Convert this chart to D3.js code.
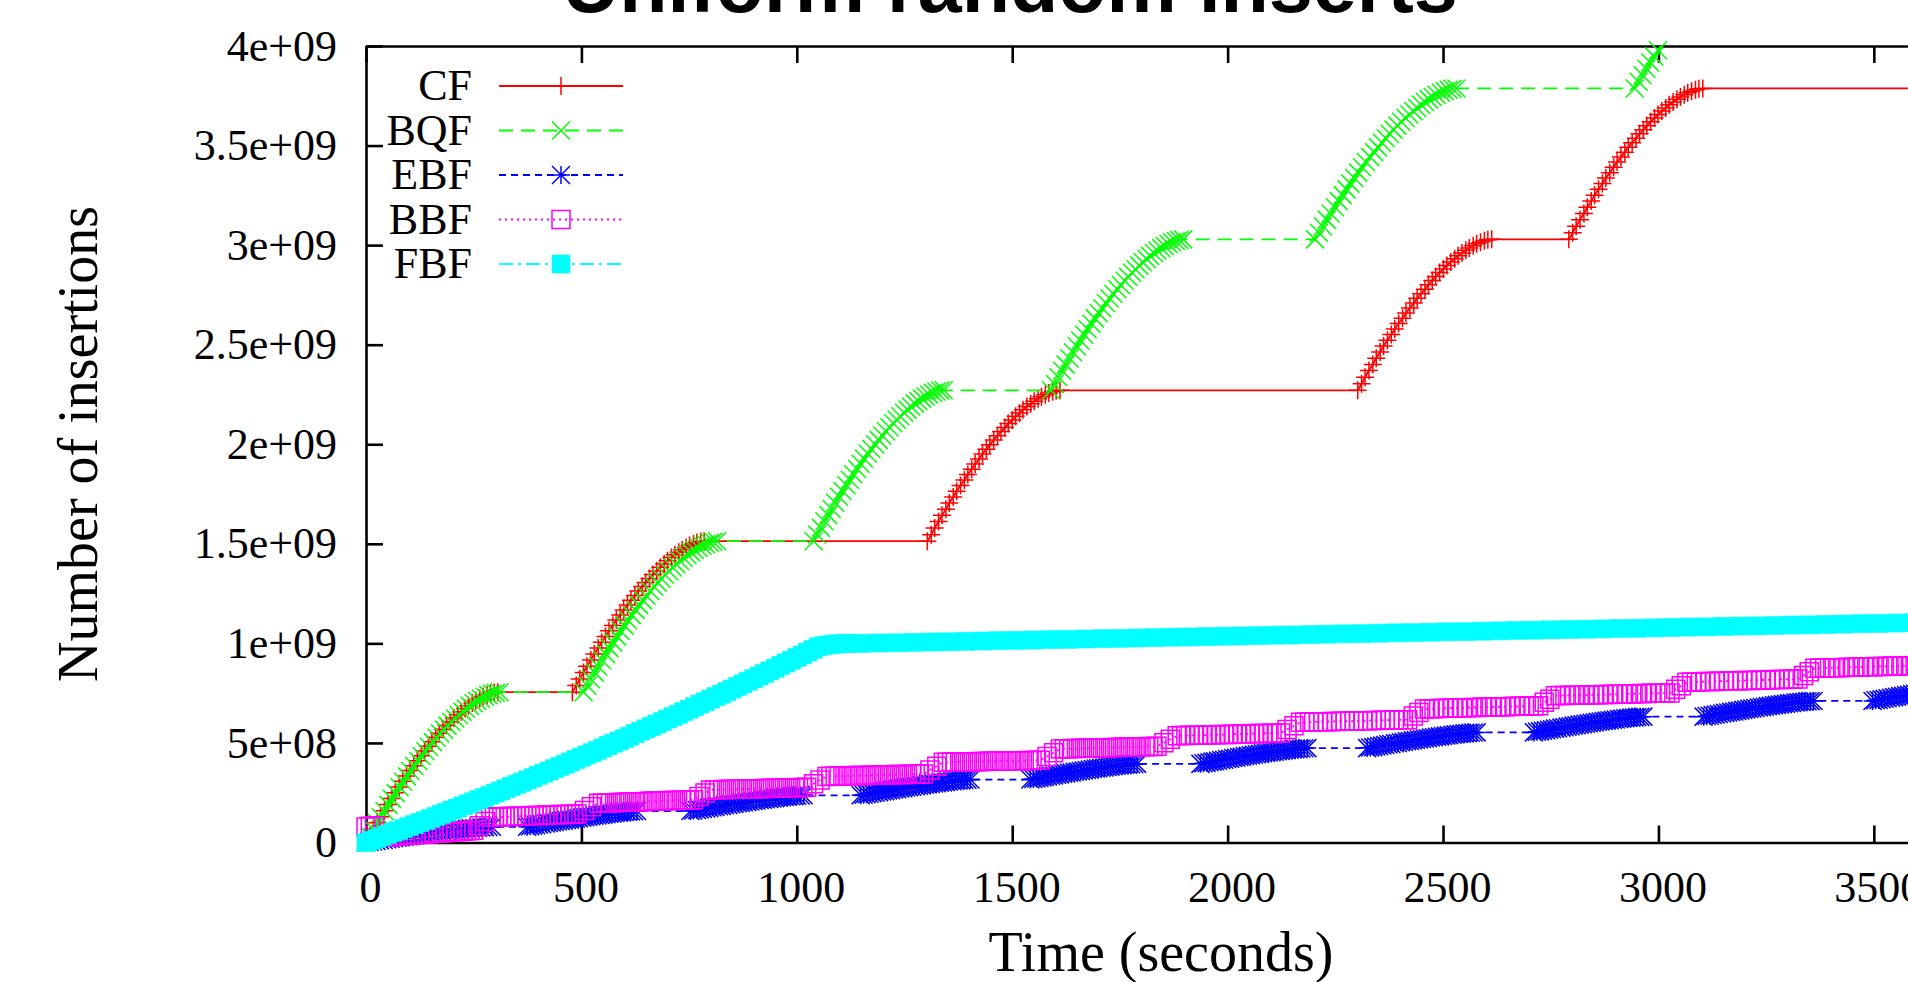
<!DOCTYPE html>
<html>
<head>
<meta charset="utf-8">
<script src="https://cdn.jsdelivr.net/npm/d3@7"></script>
<style>
  html, body { margin: 0; padding: 0; background: #fff; overflow: hidden; }
  svg { display: block; }
  text { font-family: "Liberation Serif", "Times New Roman", serif; fill: #000; }
</style>
</head>
<body>
<svg id="chart"></svg>
<script>
// legend order = drawing order
var seriesNames = ["CF", "BQF", "EBF", "BBF", "FBF"];

// x in seconds, y in millions of insertions
var xTicks = [0, 500, 1000, 1500, 2000, 2500, 3000, 3500];
var yTicks = [0, 500, 1000, 1500, 2000, 2500, 3000, 3500, 4000];
var yTickLabels = ["0", "5e+08", "1e+09", "1.5e+09", "2e+09", "2.5e+09", "3e+09", "3.5e+09", "4e+09"];

var cfTime = [0, 9, 17, 26, 34, 43, 51, 60, 68, 77, 85, 94, 102, 111, 119, 128, 136, 145, 153, 162, 170, 179, 187, 196, 204, 213, 221, 230, 238, 247, 255, 264, 272, 281, 289, 298, 306,
  479, 488, 496, 505, 513, 522, 530, 539, 547, 556, 564, 573, 581, 590, 598, 607, 615, 624, 632, 641, 649, 658, 666, 675, 683, 692, 700, 709, 717, 726, 734, 743, 751, 760, 768, 777, 785,
  1303, 1312, 1320, 1329, 1337, 1346, 1354, 1363, 1371, 1380, 1389, 1397, 1406, 1414, 1423, 1431, 1440, 1448, 1457, 1466, 1474, 1483, 1491, 1500, 1508, 1517, 1525, 1534, 1543, 1551, 1560, 1568, 1577, 1585, 1594, 1602, 1611,
  2302, 2311, 2319, 2328, 2337, 2345, 2354, 2362, 2371, 2380, 2388, 2397, 2406, 2414, 2423, 2432, 2440, 2449, 2458, 2466, 2475, 2483, 2492, 2501, 2509, 2518, 2527, 2535, 2544, 2553, 2561, 2570, 2578, 2587, 2596, 2604, 2613,
  2792, 2801, 2809, 2818, 2827, 2835, 2844, 2852, 2861, 2870, 2878, 2887, 2896, 2904, 2913, 2922, 2930, 2939, 2948, 2956, 2965, 2973, 2982, 2991, 2999, 3008, 3017, 3025, 3034, 3043, 3051, 3060, 3068, 3077, 3086, 3094, 3103,
  3700];
var cfCount = [0, 33, 66, 99, 129, 160, 191, 221, 250, 279, 307, 334, 361, 386, 411, 436, 460, 483, 506, 528, 549, 569, 589, 607, 625, 641, 657, 673, 687, 700, 712, 723, 733, 741, 748, 753, 755,
  755, 788, 821, 854, 885, 916, 947, 977, 1006, 1035, 1063, 1090, 1117, 1143, 1168, 1193, 1217, 1240, 1263, 1285, 1306, 1326, 1346, 1364, 1382, 1399, 1415, 1431, 1445, 1458, 1470, 1481, 1491, 1499, 1506, 1511, 1513,
  1513, 1546, 1579, 1612, 1643, 1674, 1705, 1735, 1764, 1793, 1821, 1848, 1875, 1901, 1926, 1951, 1975, 1998, 2021, 2043, 2064, 2084, 2104, 2122, 2140, 2157, 2173, 2189, 2203, 2216, 2228, 2239, 2249, 2257, 2264, 2269, 2271,
  2271, 2304, 2337, 2370, 2401, 2432, 2463, 2493, 2522, 2551, 2579, 2606, 2633, 2659, 2684, 2709, 2733, 2756, 2779, 2801, 2822, 2842, 2862, 2880, 2898, 2915, 2931, 2947, 2961, 2974, 2986, 2997, 3007, 3015, 3022, 3027, 3029,
  3029, 3062, 3095, 3128, 3159, 3190, 3221, 3251, 3280, 3309, 3337, 3364, 3391, 3417, 3442, 3467, 3491, 3514, 3537, 3559, 3580, 3600, 3620, 3638, 3656, 3673, 3689, 3705, 3719, 3732, 3744, 3755, 3765, 3773, 3780, 3785, 3787,
  3787];

var bqfTime = [0, 9, 17, 26, 34, 43, 52, 60, 69, 78, 86, 95, 103, 112, 121, 129, 138, 146, 155, 164, 172, 181, 189, 198, 207, 215, 224, 232, 241, 250, 258, 267, 276, 284, 293, 301, 310,
  505, 514, 522, 531, 539, 548, 557, 565, 574, 583, 591, 600, 608, 617, 626, 634, 643, 651, 660, 669, 677, 686, 694, 703, 712, 720, 729, 737, 746, 755, 763, 772, 781, 789, 798, 806, 815,
  1039, 1047, 1056, 1064, 1073, 1081, 1089, 1098, 1106, 1115, 1123, 1131, 1140, 1148, 1156, 1165, 1173, 1182, 1190, 1198, 1207, 1215, 1224, 1232, 1240, 1249, 1257, 1265, 1274, 1282, 1291, 1299, 1307, 1316, 1324, 1333, 1341,
  1590, 1599, 1607, 1616, 1624, 1633, 1641, 1650, 1658, 1667, 1675, 1684, 1692, 1701, 1709, 1718, 1726, 1735, 1744, 1752, 1761, 1769, 1778, 1786, 1795, 1803, 1812, 1820, 1829, 1837, 1846, 1854, 1863, 1871, 1880, 1888, 1897,
  2203, 2212, 2221, 2230, 2239, 2249, 2258, 2267, 2276, 2285, 2294, 2303, 2312, 2321, 2331, 2340, 2349, 2358, 2367, 2376, 2385, 2394, 2403, 2413, 2422, 2431, 2440, 2449, 2458, 2467, 2476, 2485, 2495, 2504, 2513, 2522, 2531,
  2945, 2954, 2963, 2972, 2981, 2990, 2999, 3008, 3017, 3026];
var bqfCount = [0, 32, 65, 97, 127, 158, 189, 219, 248, 277, 305, 332, 359, 384, 409, 434, 458, 481, 504, 526, 547, 567, 587, 605, 623, 640, 656, 672, 686, 699, 711, 722, 732, 740, 747, 752, 755,
  755, 787, 820, 853, 884, 915, 946, 976, 1005, 1034, 1062, 1089, 1116, 1142, 1167, 1192, 1216, 1239, 1262, 1284, 1305, 1325, 1345, 1363, 1381, 1398, 1414, 1430, 1444, 1457, 1469, 1480, 1490, 1498, 1505, 1510, 1513,
  1513, 1547, 1580, 1613, 1644, 1675, 1706, 1736, 1765, 1794, 1822, 1849, 1876, 1902, 1927, 1952, 1976, 1999, 2022, 2044, 2065, 2085, 2105, 2123, 2141, 2158, 2174, 2190, 2204, 2217, 2229, 2240, 2250, 2258, 2265, 2270, 2271,
  2271, 2303, 2336, 2369, 2400, 2431, 2462, 2492, 2521, 2550, 2578, 2605, 2632, 2658, 2683, 2708, 2732, 2755, 2778, 2800, 2821, 2841, 2861, 2879, 2897, 2914, 2930, 2946, 2960, 2973, 2985, 2996, 3006, 3014, 3021, 3026, 3029,
  3029, 3062, 3095, 3128, 3159, 3190, 3221, 3251, 3280, 3309, 3337, 3364, 3391, 3417, 3442, 3467, 3491, 3514, 3537, 3559, 3580, 3600, 3620, 3638, 3656, 3673, 3689, 3705, 3719, 3732, 3744, 3755, 3765, 3773, 3780, 3785, 3787,
  3787, 3820, 3853, 3886, 3917, 3948, 3979, 4009, 4038, 4067];

var ebfTime = [0, 8, 16, 24, 32, 41, 49, 57, 65, 73, 81, 89, 97, 105, 114, 122, 130, 138, 146, 154, 162, 170, 178, 187, 195, 203, 211, 219, 227, 235, 243, 251, 260, 268, 276, 284, 292,
  374, 381, 388, 395, 402, 409, 417, 424, 431, 438, 445, 452, 459, 466, 473, 480, 487, 494, 502, 509, 516, 523, 530, 537, 544, 551, 558, 565, 572, 579, 587, 594, 601, 608, 615, 622, 629,
  753, 760, 768, 775, 782, 790, 797, 804, 811, 819, 826, 833, 841, 848, 855, 863, 870, 877, 885, 892, 899, 906, 914, 921, 928, 936, 943, 950, 958, 965, 972, 979, 987, 994, 1001, 1009, 1016,
  1148, 1155, 1162, 1169, 1176, 1183, 1191, 1198, 1205, 1212, 1219, 1226, 1233, 1240, 1247, 1254, 1261, 1268, 1276, 1283, 1290, 1297, 1304, 1311, 1318, 1325, 1332, 1339, 1346, 1353, 1361, 1368, 1375, 1382, 1389, 1396, 1403,
  1542, 1549, 1556, 1563, 1570, 1576, 1583, 1590, 1597, 1604, 1611, 1618, 1625, 1632, 1638, 1645, 1652, 1659, 1666, 1673, 1680, 1687, 1694, 1700, 1707, 1714, 1721, 1728, 1735, 1742, 1749, 1756, 1762, 1769, 1776, 1783, 1790,
  1937, 1944, 1951, 1958, 1965, 1971, 1978, 1985, 1992, 1999, 2006, 2013, 2020, 2027, 2033, 2040, 2047, 2054, 2061, 2068, 2075, 2082, 2089, 2095, 2102, 2109, 2116, 2123, 2130, 2137, 2144, 2151, 2157, 2164, 2171, 2178, 2185,
  2324, 2331, 2338, 2345, 2352, 2359, 2366, 2373, 2380, 2388, 2395, 2402, 2409, 2416, 2423, 2430, 2437, 2444, 2451, 2458, 2465, 2472, 2479, 2486, 2493, 2500, 2507, 2514, 2522, 2529, 2536, 2543, 2550, 2557, 2564, 2571, 2578,
  2711, 2718, 2725, 2732, 2739, 2746, 2753, 2760, 2767, 2775, 2782, 2789, 2796, 2803, 2810, 2817, 2824, 2831, 2838, 2845, 2852, 2859, 2866, 2873, 2880, 2887, 2894, 2901, 2909, 2916, 2923, 2930, 2937, 2944, 2951, 2958, 2965,
  3105, 3112, 3119, 3126, 3133, 3140, 3148, 3155, 3162, 3169, 3176, 3183, 3190, 3197, 3204, 3211, 3218, 3225, 3233, 3240, 3247, 3254, 3261, 3268, 3275, 3282, 3289, 3296, 3303, 3310, 3318, 3325, 3332, 3339, 3346, 3353, 3360,
  3497, 3504, 3511, 3518, 3525, 3532, 3540, 3547, 3554, 3561, 3568, 3575, 3582, 3589, 3596, 3603, 3610, 3617, 3625, 3632, 3639, 3646, 3653, 3660, 3667, 3674, 3681];
var ebfCount = [0, 3, 5, 8, 11, 13, 16, 19, 21, 24, 26, 29, 31, 34, 36, 39, 41, 43, 46, 48, 50, 53, 55, 57, 59, 61, 63, 65, 67, 69, 71, 72, 74, 75, 77, 78, 79,
  79, 82, 84, 87, 90, 92, 95, 98, 100, 103, 105, 108, 110, 113, 115, 118, 120, 122, 125, 127, 129, 132, 134, 136, 138, 140, 142, 144, 146, 148, 150, 151, 153, 154, 156, 157, 158,
  158, 161, 163, 166, 169, 171, 174, 177, 179, 182, 184, 187, 189, 192, 194, 197, 199, 201, 204, 206, 208, 211, 213, 215, 217, 219, 221, 223, 225, 227, 229, 230, 232, 233, 235, 236, 237,
  237, 240, 242, 245, 248, 250, 253, 256, 258, 261, 263, 266, 268, 271, 273, 276, 278, 280, 283, 285, 287, 290, 292, 294, 296, 298, 300, 302, 304, 306, 308, 309, 311, 312, 314, 315, 316,
  316, 319, 321, 324, 327, 329, 332, 335, 337, 340, 342, 345, 347, 350, 352, 355, 357, 359, 362, 364, 366, 369, 371, 373, 375, 377, 379, 381, 383, 385, 387, 388, 390, 391, 393, 394, 395,
  395, 398, 400, 403, 406, 408, 411, 414, 416, 419, 421, 424, 426, 429, 431, 434, 436, 438, 441, 443, 445, 448, 450, 452, 454, 456, 458, 460, 462, 464, 466, 467, 469, 470, 472, 473, 474,
  474, 477, 479, 482, 485, 487, 490, 493, 495, 498, 500, 503, 505, 508, 510, 513, 515, 517, 520, 522, 524, 527, 529, 531, 533, 535, 537, 539, 541, 543, 545, 546, 548, 549, 551, 552, 553,
  553, 556, 558, 561, 564, 566, 569, 572, 574, 577, 579, 582, 584, 587, 589, 592, 594, 596, 599, 601, 603, 606, 608, 610, 612, 614, 616, 618, 620, 622, 624, 625, 627, 628, 630, 631, 632,
  632, 635, 637, 640, 643, 645, 648, 651, 653, 656, 658, 661, 663, 666, 668, 671, 673, 675, 678, 680, 682, 685, 687, 689, 691, 693, 695, 697, 699, 701, 703, 704, 706, 707, 709, 710, 711,
  711, 714, 716, 719, 722, 724, 727, 730, 732, 735, 737, 740, 742, 745, 747, 750, 752, 754, 757, 759, 761, 764, 766, 768, 770, 772, 774];

var bbfTime = [0, 10, 20,
  50, 58, 67, 75, 83, 92, 100, 108, 117, 125, 133, 142, 150, 158, 167, 175, 183, 192, 200, 208, 217, 225, 233, 242, 250,
  263, 277,
  290, 298, 307, 315, 323, 332, 340, 348, 357, 365, 373, 382, 390, 398, 407, 415, 423, 432, 440, 448, 457, 465, 473, 482, 490,
  507, 523,
  540, 549, 558, 568, 577, 586, 595, 604, 613, 623, 632, 641, 650, 659, 668, 678, 687, 696, 705, 714, 723, 733, 742, 751, 760,
  773, 787,
  800, 809, 819, 828, 837, 846, 856, 865, 874, 884, 893, 902, 912, 921, 930, 939, 949, 958, 967, 977, 986, 995, 1004, 1014, 1023,
  1039, 1054,
  1070, 1079, 1089, 1098, 1107, 1117, 1126, 1135, 1145, 1154, 1163, 1173, 1182, 1191, 1201, 1210, 1219, 1229, 1238, 1247, 1257, 1266, 1275, 1285, 1294,
  1309, 1325,
  1340, 1349, 1359, 1368, 1378, 1387, 1396, 1406, 1415, 1424, 1434, 1443, 1453, 1462, 1471, 1481, 1490, 1499, 1509, 1518, 1528, 1537, 1546, 1556, 1565,
  1581, 1596,
  1612, 1621, 1631, 1640, 1649, 1659, 1668, 1677, 1687, 1696, 1705, 1715, 1724, 1733, 1743, 1752, 1761, 1771, 1780, 1789, 1799, 1808, 1817, 1827, 1836,
  1852, 1867,
  1883, 1893, 1903, 1913, 1923, 1933, 1943, 1953, 1963, 1973, 1983, 1993, 2003, 2013, 2023, 2033, 2043, 2053, 2063, 2073, 2083, 2093, 2103, 2113, 2123,
  2138, 2154,
  2169, 2179, 2190, 2200, 2211, 2221, 2231, 2242, 2252, 2262, 2273, 2283, 2294, 2304, 2314, 2325, 2335, 2345, 2356, 2366, 2377, 2387, 2397, 2408, 2418,
  2431, 2444,
  2457, 2468, 2479, 2490, 2501, 2512, 2523, 2534, 2545, 2556, 2567, 2578, 2590, 2601, 2612, 2623, 2634, 2645, 2656, 2667, 2678, 2689, 2700, 2711, 2722,
  2735, 2748,
  2761, 2772, 2783, 2794, 2805, 2816, 2828, 2839, 2850, 2861, 2872, 2883, 2894, 2905, 2916, 2927, 2938, 2949, 2961, 2972, 2983, 2994, 3005, 3016, 3027,
  3040, 3053,
  3066, 3077, 3088, 3098, 3109, 3120, 3131, 3141, 3152, 3163, 3174, 3184, 3195, 3206, 3217, 3227, 3238, 3249, 3260, 3270, 3281, 3292, 3303, 3313, 3324,
  3337, 3350,
  3363, 3374, 3386, 3397, 3408, 3419, 3431, 3442, 3453, 3464, 3476, 3487, 3498, 3509, 3521, 3532, 3543, 3554, 3566, 3577, 3588, 3599, 3611, 3622, 3633];
var bbfCount = [78, 81, 84,
  28, 30, 32, 33, 35, 36, 38, 39, 40, 41, 42, 43, 45, 46, 47, 48, 50, 51, 53, 54, 55, 57, 58, 60, 62,
  84, 106,
  127, 128, 128, 129, 130, 130, 131, 132, 132, 133, 134, 134, 135, 136, 136, 137, 138, 138, 139, 140, 140, 141, 142, 142, 143,
  161, 179,
  197, 198, 199, 199, 200, 201, 202, 202, 203, 204, 205, 205, 206, 207, 208, 208, 209, 210, 211, 211, 212, 213, 214, 214, 215,
  231, 248,
  264, 265, 265, 266, 266, 267, 267, 268, 268, 269, 269, 270, 270, 271, 271, 272, 273, 273, 274, 274, 275, 275, 276, 276, 277,
  295, 314,
  332, 333, 333, 334, 334, 335, 335, 336, 336, 337, 337, 338, 338, 339, 339, 340, 340, 341, 341, 342, 342, 343, 343, 344, 344,
  364, 383,
  403, 403, 404, 404, 405, 405, 405, 406, 406, 407, 407, 408, 408, 408, 409, 409, 410, 410, 410, 411, 411, 412, 412, 413, 413,
  432, 451,
  470, 471, 471, 472, 472, 473, 473, 474, 474, 475, 475, 476, 476, 477, 477, 478, 479, 479, 480, 480, 481, 481, 482, 482, 483,
  501, 518,
  536, 537, 537, 538, 538, 539, 539, 540, 541, 541, 542, 542, 543, 544, 544, 545, 545, 546, 547, 547, 548, 548, 549, 549, 550,
  568, 586,
  604, 605, 605, 606, 606, 607, 607, 608, 608, 609, 609, 610, 610, 611, 611, 612, 613, 613, 614, 614, 615, 615, 616, 616, 617,
  635, 653,
  671, 672, 672, 673, 674, 674, 675, 676, 676, 677, 678, 678, 679, 680, 680, 681, 682, 682, 683, 684, 684, 685, 686, 686, 687,
  704, 720,
  737, 738, 738, 739, 739, 740, 740, 741, 742, 742, 743, 743, 744, 745, 745, 746, 746, 747, 748, 748, 749, 749, 750, 750, 751,
  769, 787,
  805, 806, 806, 807, 808, 808, 809, 810, 810, 811, 812, 812, 813, 814, 814, 815, 816, 816, 817, 818, 818, 819, 820, 820, 821,
  839, 857,
  875, 876, 876, 877, 878, 878, 879, 880, 880, 881, 882, 882, 883, 884, 884, 885, 886, 886, 887, 888, 888, 889, 890, 890, 891];

var fbfTime = [0, 12.5, 25, 37.5, 50, 62.5, 75, 87.5, 100, 112.5, 125, 137.5, 150, 162.5, 175, 187.5, 200,
  212.5, 225, 237.5, 250, 262.5, 275, 287.5, 300, 312.5, 325, 337.5, 350, 362.5, 375, 387.5, 400,
  412.5, 425, 437.5, 450, 462.5, 475, 487.5, 500, 512.5, 525, 537.5, 550, 562.5, 575, 587.5, 600,
  612.5, 625, 637.5, 650, 662.5, 675, 687.5, 700, 712.5, 725, 737.5, 750, 762.5, 775, 787.5, 800,
  812.5, 825, 837.5, 850, 862.5, 875, 887.5, 900, 912.5, 925, 937.5, 950, 962.5, 975, 987.5, 1000,
  1012.5, 1025, 1037.5, 1050, 1062.5, 1075, 1087.5, 1100, 1112.5, 1125,
  1150, 1190, 1230, 1270, 1310, 1350, 1390, 1430, 1470, 1510, 1550, 1590, 1630, 1670,
  1710, 1750, 1790, 1830, 1870, 1910, 1950, 1990, 2030, 2070, 2110, 2150, 2190, 2230,
  2270, 2310, 2350, 2390, 2430, 2470, 2510, 2550, 2590, 2630, 2670, 2710, 2750, 2790,
  2830, 2870, 2910, 2950, 2990, 3030, 3070, 3110, 3150, 3190, 3230, 3270, 3310, 3350,
  3390, 3430, 3470, 3510, 3550, 3590, 3630, 3670];
var fbfCount = [0, 10, 20, 30, 40, 50, 60, 70, 80, 90, 100, 110, 121, 131, 142, 152, 163,
  173, 184, 194, 205, 216, 226, 237, 248, 259, 270, 281, 292, 303, 314, 325, 337,
  348, 359, 371, 382, 393, 405, 417, 428, 440, 451, 463, 475, 487, 499, 510, 522,
  534, 547, 559, 571, 583, 595, 607, 620, 632, 644, 657, 669, 682, 695, 707, 720,
  733, 745, 758, 771, 784, 797, 810, 823, 836, 849, 862, 875, 889, 902, 915, 929,
  942, 956, 969, 983, 989, 993, 996, 998, 999, 1000,
  1000, 1002, 1003, 1005, 1007, 1008, 1010, 1012, 1014, 1015, 1017, 1019, 1020, 1022,
  1024, 1025, 1027, 1029, 1031, 1032, 1034, 1036, 1037, 1039, 1041, 1042, 1044, 1046,
  1048, 1049, 1051, 1053, 1054, 1056, 1058, 1059, 1061, 1063, 1065, 1066, 1068, 1070,
  1071, 1073, 1075, 1076, 1078, 1080, 1082, 1083, 1085, 1087, 1088, 1090, 1092, 1093,
  1095, 1097, 1099, 1100, 1102, 1104, 1105, 1107];

let width = 1908;
let height = 982;
let xMax = 3700;
let yMax = 4000;

// plot box (right edge falls outside the picture)
let plotLeft = 366, plotRight = 1960, plotTop = 46, plotBottom = 842.5;

let styles = {
  CF:  { color: "#ff0000", dash: null,       marker: "plus" },
  BQF: { color: "#00ff00", dash: "14,8",     marker: "cross" },
  EBF: { color: "#0000ff", dash: "7,5",      marker: "star" },
  BBF: { color: "#ff00ff", dash: "2,4",      marker: "box" },
  FBF: { color: "#00ffff", dash: "14,5,3,5", marker: "fbox" }
};

let series = [
  { name: "CF",  points: d3.zip(cfTime, cfCount) },
  { name: "BQF", points: d3.zip(bqfTime, bqfCount) },
  { name: "EBF", points: d3.zip(ebfTime, ebfCount) },
  { name: "BBF", points: d3.zip(bbfTime, bbfCount) },
  { name: "FBF", points: d3.zip(fbfTime, fbfCount) }
];

let svg = d3
  .select("#chart")
  .attr("width", width)
  .attr("height", height);

svg.append("rect").attr("width", width).attr("height", height).attr("fill", "#fff");

let x = d3.scaleLinear().domain([0, xMax]).range([plotLeft, plotRight]);
let y = d3.scaleLinear().domain([0, yMax]).range([plotBottom, plotTop]);

svg.append("clipPath")
  .attr("id", "plotClip")
  .append("rect")
  .attr("x", plotLeft)
  .attr("y", plotTop)
  .attr("width", plotRight - plotLeft)
  .attr("height", plotBottom - plotTop);

//axes, ticks point inward like gnuplot
function styleAxis(g) {
  g.select(".domain").attr("stroke", "#000").attr("stroke-width", 2.6);
  g.selectAll(".tick line").attr("stroke", "#000").attr("stroke-width", 2.6);
  g.selectAll(".tick text")
    .attr("fill", "#000")
    .style("font-family", '"Liberation Serif", "Times New Roman", serif')
    .style("font-size", "44px");
}

svg.append("g")
  .attr("transform", `translate(${plotLeft},0)`)
  .call(d3.axisLeft(y)
    .tickValues(yTicks)
    .tickFormat((d, i) => yTickLabels[i])
    .tickSizeInner(-17)
    .tickSizeOuter(0)
    .tickPadding(29))
  .call(styleAxis);

svg.append("g")
  .attr("transform", `translate(0,${plotBottom})`)
  .call(d3.axisBottom(x)
    .tickValues(xTicks)
    .tickFormat(d3.format("d"))
    .tickSizeInner(-17)
    .tickSizeOuter(0)
    .tickPadding(28))
  .call(styleAxis)
  .selectAll(".tick text")
  .attr("dx", 4);

svg.append("g")
  .attr("transform", `translate(0,${plotTop})`)
  .call(d3.axisTop(x)
    .tickValues(xTicks)
    .tickFormat("")
    .tickSizeInner(-17)
    .tickSizeOuter(0))
  .call(styleAxis);

// marker shapes, half size h
function markerPath(type, h) {
  if (type === "plus") return `M${-h},0H${h}M0,${-h}V${h}`;
  if (type === "cross") return `M${-h},${-h}L${h},${h}M${-h},${h}L${h},${-h}`;
  if (type === "star") return `M${-h},0H${h}M0,${-h}V${h}M${-h},${-h}L${h},${h}M${-h},${h}L${h},${-h}`;
  return `M${-h},${-h}H${h}V${h}H${-h}Z`;
}

function drawMarkers(g, pts, st) {
  g.selectAll("path.mark")
    .data(pts)
    .enter()
    .append("path")
    .attr("class", "mark")
    .attr("d", markerPath(st.marker, 9))
    .attr("transform", d => `translate(${x(d[0])},${y(d[1])})`)
    .attr("fill", st.marker === "fbox" ? st.color : "none")
    .attr("stroke", st.color)
    .attr("stroke-width", st.marker === "fbox" ? 0.6 : 1.5);
}

let line = d3.line()
  .x(d => x(d[0]))
  .y(d => y(d[1]));

series.forEach(s => {
  let st = styles[s.name];
  let g = svg.append("g").attr("class", "series");

  g.append("path")
    .datum(s.points)
    .attr("clip-path", "url(#plotClip)")
    .attr("d", line)
    .attr("fill", "none")
    .attr("stroke", st.color)
    .attr("stroke-width", 1.8)
    .attr("stroke-dasharray", st.dash);

  let inside = s.points.filter(d => d[0] <= xMax && d[1] <= yMax);
  drawMarkers(g, inside, st);
});

//legend
let legend = svg.append("g").attr("class", "legend");
seriesNames.forEach((name, i) => {
  let st = styles[name];
  let rowY = 86 + i * 44.5;
  legend.append("text")
    .attr("x", 472)
    .attr("y", rowY + 14)
    .attr("text-anchor", "end")
    .style("font-size", "44px")
    .text(name);
  legend.append("line")
    .attr("x1", 499)
    .attr("x2", 623)
    .attr("y1", rowY)
    .attr("y2", rowY)
    .attr("stroke", st.color)
    .attr("stroke-width", 1.8)
    .attr("stroke-dasharray", st.dash);
  legend.append("path")
    .attr("d", markerPath(st.marker, 9))
    .attr("transform", `translate(561,${rowY})`)
    .attr("fill", st.marker === "fbox" ? st.color : "none")
    .attr("stroke", st.color)
    .attr("stroke-width", st.marker === "fbox" ? 0.6 : 1.5);
});

// titles
svg.append("text")
  .attr("x", 1010)
  .attr("y", 12)
  .attr("text-anchor", "middle")
  .style("font-family", '"Liberation Sans", Arial, sans-serif')
  .style("font-weight", "bold")
  .style("font-size", "79px")
  .text("Uniform random inserts");

svg.append("text")
  .attr("x", 1161)
  .attr("y", 971)
  .attr("text-anchor", "middle")
  .style("font-size", "56px")
  .text("Time (seconds)");

svg.append("text")
  .attr("transform", "translate(97,444) rotate(-90)")
  .attr("text-anchor", "middle")
  .style("font-size", "56px")
  .text("Number of insertions");
</script>
</body>
</html>
